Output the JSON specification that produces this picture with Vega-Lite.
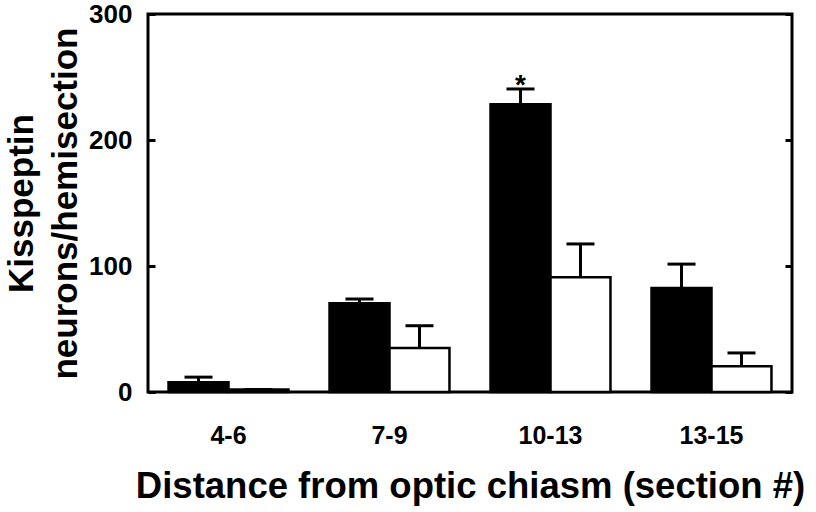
{
  "$schema": "https://vega.github.io/schema/vega-lite/v6.json",
  "width": 644,
  "height": 378,
  "autosize": {"type": "none"},
  "padding": {"left": 148, "top": 14, "right": 24, "bottom": 120},
  "config": {
    "view": {"stroke": "black", "strokeWidth": 3},
    "font": "Liberation Sans"
  },
  "data": {
    "values": [
      {"section": "4-6", "group": "A", "value": 7.7, "upper": 11.8, "star": ""},
      {"section": "4-6", "group": "B", "value": 2, "upper": 2, "star": ""},
      {"section": "7-9", "group": "A", "value": 70.4, "upper": 73.8, "star": ""},
      {"section": "7-9", "group": "B", "value": 35, "upper": 52.6, "star": ""},
      {"section": "10-13", "group": "A", "value": 228.3, "upper": 240.5, "star": "*"},
      {"section": "10-13", "group": "B", "value": 91, "upper": 117.5, "star": ""},
      {"section": "13-15", "group": "A", "value": 82.5, "upper": 101.5, "star": ""},
      {"section": "13-15", "group": "B", "value": 20.5, "upper": 31, "star": ""}
    ]
  },
  "encoding": {
    "x": {
      "field": "section",
      "type": "nominal",
      "sort": ["4-6", "7-9", "10-13", "13-15"],
      "scale": {"paddingInner": 0.255, "paddingOuter": 0.1275},
      "axis": {
        "title": "Distance from optic chiasm (section #)",
        "labelAngle": 0,
        "ticks": false,
        "domain": false,
        "labelFont": "Liberation Sans",
        "labelFontWeight": "bold",
        "labelFontSize": 25,
        "labelColor": "black",
        "labelBaseline": "alphabetic",
        "labelPadding": 51,
        "titleFont": "Liberation Sans",
        "titleFontWeight": "bold",
        "titleFontSize": 36.5,
        "titleColor": "black",
        "titleBaseline": "alphabetic",
        "titleAnchor": "middle",
        "titleX": 322,
        "titleY": 105
      }
    },
    "xOffset": {
      "field": "group",
      "type": "nominal",
      "sort": ["A", "B"],
      "scale": {"paddingInner": 0, "paddingOuter": 0}
    }
  },
  "layer": [
    {
      "mark": {"type": "bar", "strokeWidth": 2.5, "stroke": "black"},
      "encoding": {
        "y": {
          "field": "value",
          "type": "quantitative",
          "scale": {"domain": [0, 300], "nice": false},
          "axis": {
            "orient": "left",
            "values": [0, 100, 200, 300],
            "grid": false,
            "domain": false,
            "tickSize": -7,
            "tickWidth": 3,
            "tickColor": "black",
            "labelFont": "Liberation Sans",
            "labelFontWeight": "bold",
            "labelFontSize": 26,
            "labelColor": "black",
            "labelPadding": 23,
            "title": ["Kisspeptin", "neurons/hemisection"],
            "titleFont": "Liberation Sans",
            "titleFontWeight": "bold",
            "titleFontSize": 35,
            "titleColor": "black",
            "titleAngle": 270,
            "titleBaseline": "alphabetic",
            "titleAlign": "center",
            "titleLineHeight": 44,
            "titleX": -116,
            "titleY": 189
          }
        },
        "fill": {
          "field": "group",
          "type": "nominal",
          "scale": {"domain": ["A", "B"], "range": ["black", "white"]},
          "legend": null
        }
      }
    },
    {
      "mark": {"type": "rule", "strokeWidth": 3, "color": "black"},
      "encoding": {
        "y": {
          "field": "value",
          "type": "quantitative",
          "axis": {
            "orient": "right",
            "values": [0, 100, 200, 300],
            "grid": false,
            "domain": false,
            "labels": false,
            "tickSize": -7,
            "tickWidth": 3,
            "tickColor": "black",
            "title": null
          }
        },
        "y2": {"field": "upper"}
      }
    },
    {
      "mark": {"type": "tick", "thickness": 3, "size": 28, "color": "black", "opacity": 1},
      "encoding": {
        "y": {"field": "upper", "type": "quantitative", "axis": null}
      }
    },
    {
      "mark": {"type": "text", "fontSize": 28, "fontWeight": "bold", "baseline": "alphabetic", "dy": 5, "color": "black"},
      "encoding": {
        "y": {"field": "upper", "type": "quantitative", "axis": null},
        "text": {"field": "star"}
      }
    }
  ],
  "resolve": {"axis": {"y": "independent"}}
}
